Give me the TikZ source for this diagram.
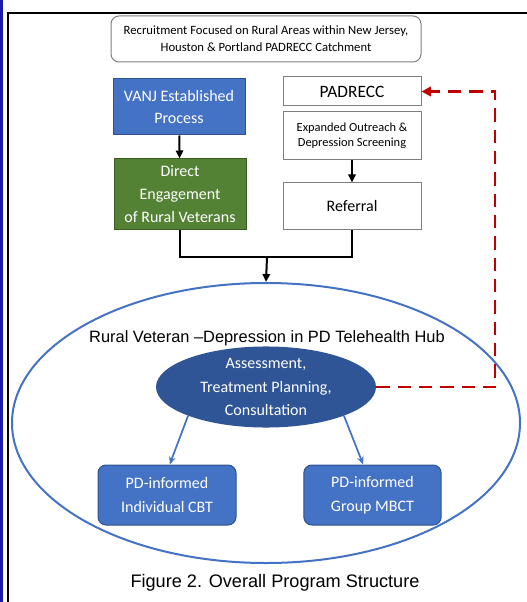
\documentclass[tikz,border=0pt]{standalone}
\usepackage{fontspec}
\setmainfont{Carlito}
\newfontfamily\arialfont[Ligatures=TeX]{Liberation Sans}
\usetikzlibrary{arrows.meta,shapes.geometric}

\definecolor{vanjblue}{RGB}{68,114,196}
\definecolor{vanjedge}{RGB}{47,82,143}
\definecolor{engagegreen}{RGB}{84,130,53}
\definecolor{hubblue}{RGB}{47,85,151}
\definecolor{boxgray}{RGB}{127,127,127}
\definecolor{returnred}{RGB}{192,0,0}
\definecolor{stripblue}{RGB}{28,28,168}

\tikzset{
  whitebox/.style={draw=boxgray, fill=white, line width=0.75pt, align=center, inner sep=0.75pt, minimum width=103.5pt},
  colorbox/.style={draw=vanjedge, line width=0.75pt, text=white, align=center, inner sep=0.75pt, minimum width=99pt},
  txtbig/.style={font=\fontsize{12}{17}\selectfont},
  flowarrow/.style={line width=1.5pt, -{Triangle[length=6pt,width=5.5pt]}},
  treatarrow/.style={draw=vanjblue, line width=1.3pt, -{Stealth[length=6pt,width=5pt]}},
}

\begin{document}
\begin{tikzpicture}[x=0.75pt,y=0.75pt,yscale=-1,xscale=1]
%set diagram to the page size
\useasboundingbox (0,0) rectangle (527,602);

%Shape: page frame
\fill[stripblue] (0,0) rectangle (2.5,602);
\draw[line width=1.6pt] (8,602) -- (8,13) -- (527,13);

% Text Node: catchment
\node[whitebox, rounded corners=6pt, minimum width=232.5pt, minimum height=34.5pt, font=\fontsize{9.5}{12.75}\selectfont] (catchment) at (266,39) {Recruitment Focused on Rural Areas within New Jersey,\\Houston \& Portland PADRECC Catchment};

%Shape: Rectangle (left column)
\node[colorbox, fill=vanjblue, minimum height=42pt, txtbig] (vanj) at (179,107) {VANJ Established\\Process};
\node[colorbox, fill=engagegreen, draw=engagegreen!70!black, minimum height=52.5pt, txtbig] (direct) at (180,194) {Direct\\Engagement\\of Rural Veterans};

%Shape: Rectangle (right column)
\node[whitebox, minimum height=21.75pt, font=\fontsize{13}{15}\selectfont] (padrecc) at (352,91.5) {PADRECC};
\node[whitebox, minimum height=36pt, font=\fontsize{9.3}{11.25}\selectfont] (outreach) at (352,136) {Expanded Outreach \&\\Depression Screening};
\node[whitebox, minimum height=34.5pt, txtbig] (referral) at (352,206) {Referral};

%Straight Lines
\draw[flowarrow] (vanj) -- (direct);
\draw[flowarrow] (outreach) -- (referral);

%Shape: Ellipse (hub)
\node[draw=vanjblue, line width=1.5pt, ellipse, minimum width=381pt, minimum height=210pt] (hub) at (266,423) {};
% Text Node
\node[font=\arialfont\fontsize{12.3}{14}\selectfont] (hublabel) at (267,338) {Rural Veteran \textendash Depression in PD Telehealth Hub};

%Merge of both columns
\coordinate (merge) at (267,257);
\draw[line width=2pt] (direct.south) |- (merge) -| (referral.south);
\draw[flowarrow] (merge) -- (hub.north);

%Shape: Ellipse (assessment)
\node[ellipse, fill=hubblue, text=white, align=center, inner sep=0pt, minimum width=165pt, minimum height=52.5pt, font=\fontsize{12}{17.6}\selectfont] (assess) at (266,387) {Assessment,\\Treatment Planning,\\Consultation};

%Shape: Rectangle (treatments)
\node[colorbox, fill=vanjblue, rounded corners=6pt, minimum width=103.5pt, minimum height=45pt, font=\fontsize{12}{18}\selectfont] (cbt) at (167,495) {PD-informed\\Individual CBT};
\node[colorbox, fill=vanjblue, rounded corners=6pt, minimum width=103pt, minimum height=45pt, font=\fontsize{12}{18}\selectfont] (mbct) at (372.5,495) {PD-informed\\Group MBCT};

\draw[treatarrow] (assess.south west) -- ([xshift=2pt]cbt.north);
\draw[treatarrow] (assess.south east) -- ([xshift=-7pt]mbct.north);

%Dashed return line
\coordinate (turn) at (495,91.5);
\draw[returnred, line width=2.2pt, dash pattern=on 10pt off 6pt, -{Triangle[length=7pt,width=7pt]}] (assess.east) -| (turn) -- (padrecc.east);

% Text Node
\node[font=\arialfont\fontsize{13.6}{16}\selectfont] (caption) at (275,583) {Figure 2. Overall Program Structure};

\end{tikzpicture}
\end{document}
